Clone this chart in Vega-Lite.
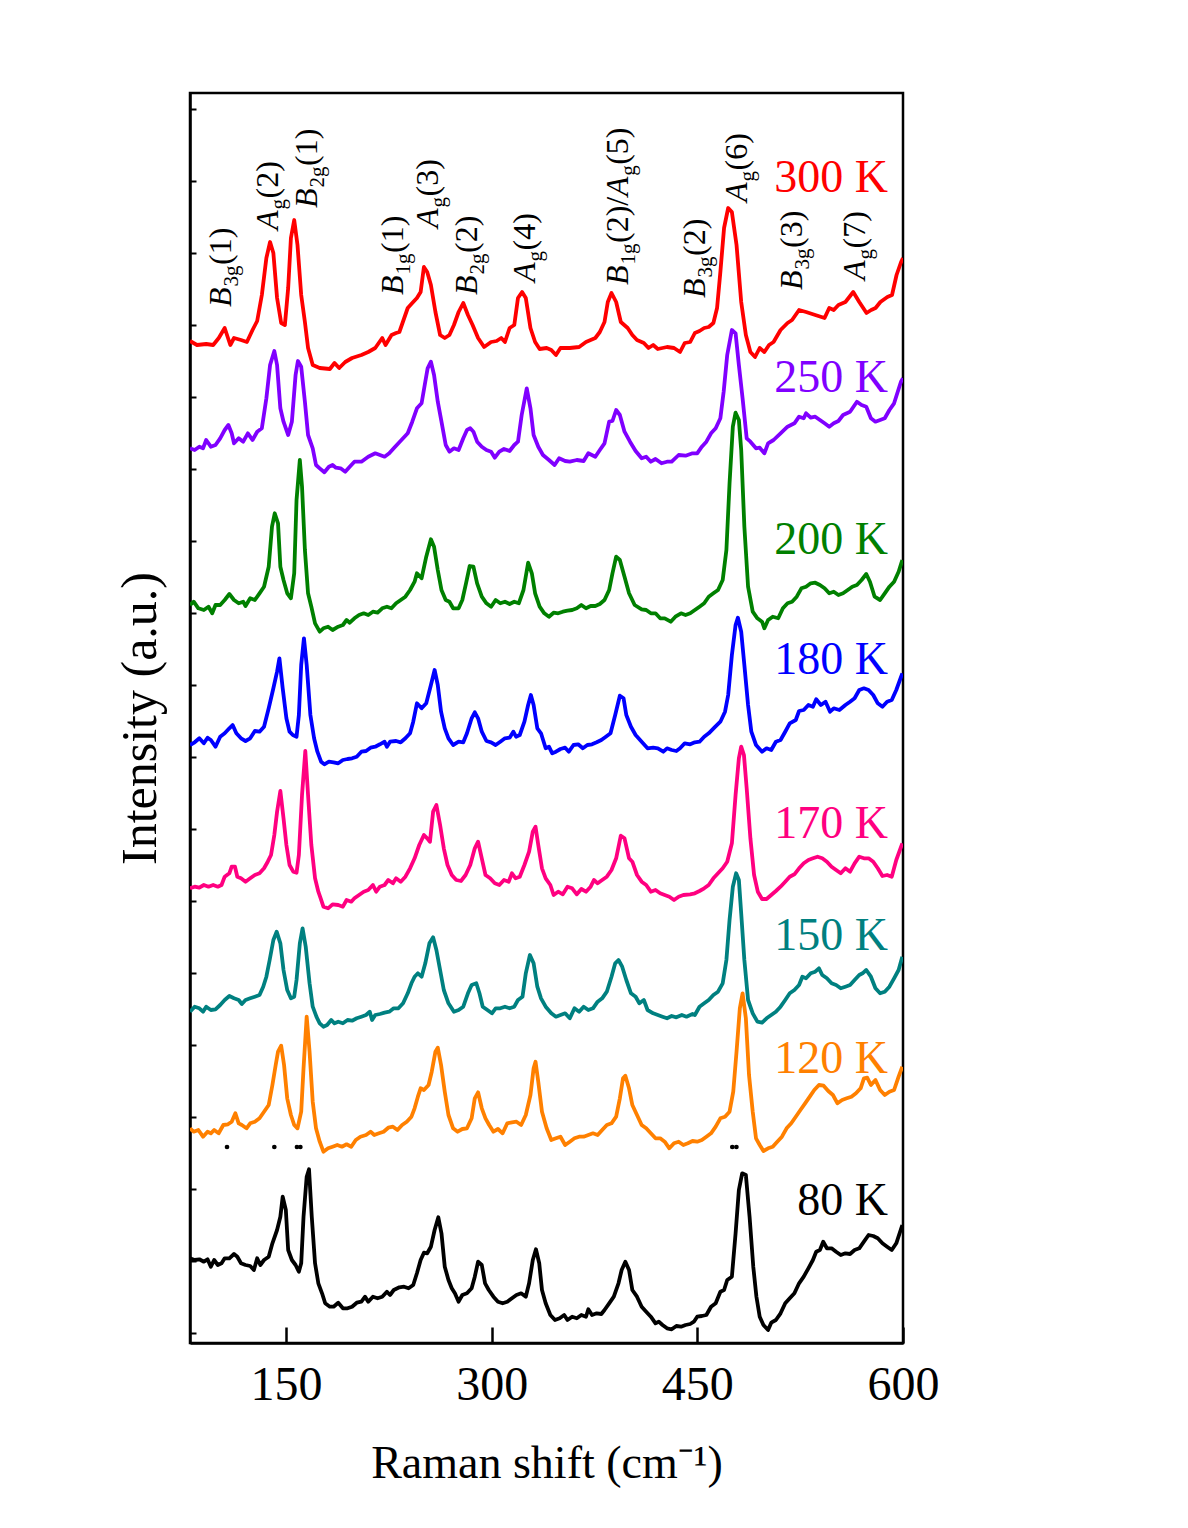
{
"$schema":"https://vega.github.io/schema/vega-lite/v6.json",
"width":713,"height":1250,
"autosize":{"type":"none"},
"padding":{"left":190,"top":93,"right":285,"bottom":185},
"background":"white",
"config":{"view":{"stroke":"black","strokeWidth":2.5},"font":"Liberation Serif"},
"datasets":{
"s":[
{"T":"300 K","x":80,"y":1002},{"T":"300 K","x":85.1,"y":998},{"T":"300 K","x":91.8,"y":999},{"T":"300 K","x":96.9,"y":998},{"T":"300 K","x":101,"y":1005},{"T":"300 K","x":105.3,"y":1015},{"T":"300 K","x":109.4,"y":998},{"T":"300 K","x":112.1,"y":1005},{"T":"300 K","x":117.2,"y":1003},{"T":"300 K","x":121.5,"y":1001},{"T":"300 K","x":125.6,"y":1013},{"T":"300 K","x":129,"y":1022},{"T":"300 K","x":132.4,"y":1048},{"T":"300 K","x":135.7,"y":1085},{"T":"300 K","x":138.4,"y":1101},{"T":"300 K","x":140.8,"y":1090},{"T":"300 K","x":143.5,"y":1045},{"T":"300 K","x":146.5,"y":1020},{"T":"300 K","x":149.2,"y":1018},{"T":"300 K","x":151.6,"y":1055},{"T":"300 K","x":153.6,"y":1105},{"T":"300 K","x":156,"y":1123},{"T":"300 K","x":158.4,"y":1098},{"T":"300 K","x":161.1,"y":1048},{"T":"300 K","x":163.8,"y":1021},{"T":"300 K","x":166.1,"y":995},{"T":"300 K","x":169.5,"y":978},{"T":"300 K","x":174.6,"y":975},{"T":"300 K","x":182,"y":974},{"T":"300 K","x":185.4,"y":980},{"T":"300 K","x":188.8,"y":975},{"T":"300 K","x":193.2,"y":981},{"T":"300 K","x":198.2,"y":985},{"T":"300 K","x":205,"y":988},{"T":"300 K","x":210,"y":991},{"T":"300 K","x":215.1,"y":995},{"T":"300 K","x":220.2,"y":1005},{"T":"300 K","x":222.6,"y":998},{"T":"300 K","x":227,"y":1008},{"T":"300 K","x":230.3,"y":1010},{"T":"300 K","x":232.7,"y":1011},{"T":"300 K","x":238.8,"y":1035},{"T":"300 K","x":242.1,"y":1040},{"T":"300 K","x":245.5,"y":1045},{"T":"300 K","x":248.2,"y":1051},{"T":"300 K","x":250.6,"y":1076},{"T":"300 K","x":253,"y":1071},{"T":"300 K","x":255.7,"y":1058},{"T":"300 K","x":259,"y":1031},{"T":"300 K","x":262.4,"y":1008},{"T":"300 K","x":265.8,"y":1005},{"T":"300 K","x":269.2,"y":1008},{"T":"300 K","x":272.5,"y":1018},{"T":"300 K","x":275.9,"y":1031},{"T":"300 K","x":279.3,"y":1040},{"T":"300 K","x":282.7,"y":1028},{"T":"300 K","x":286.1,"y":1018},{"T":"300 K","x":290.1,"y":1005},{"T":"300 K","x":294.5,"y":996},{"T":"300 K","x":299.6,"y":1001},{"T":"300 K","x":303.6,"y":1002},{"T":"300 K","x":307,"y":1005},{"T":"300 K","x":309.7,"y":1001},{"T":"300 K","x":313.1,"y":1015},{"T":"300 K","x":316.5,"y":1018},{"T":"300 K","x":319.2,"y":1045},{"T":"300 K","x":322.2,"y":1051},{"T":"300 K","x":324.9,"y":1045},{"T":"300 K","x":328.3,"y":1015},{"T":"300 K","x":331.7,"y":1001},{"T":"300 K","x":335,"y":994},{"T":"300 K","x":340.1,"y":995},{"T":"300 K","x":343.5,"y":993},{"T":"300 K","x":346.9,"y":988},{"T":"300 K","x":350.2,"y":995},{"T":"300 K","x":357,"y":995},{"T":"300 K","x":363.8,"y":996},{"T":"300 K","x":368.8,"y":1001},{"T":"300 K","x":372.2,"y":1003},{"T":"300 K","x":375.6,"y":1005},{"T":"300 K","x":378.9,"y":1011},{"T":"300 K","x":382.3,"y":1021},{"T":"300 K","x":384.7,"y":1041},{"T":"300 K","x":387.4,"y":1050},{"T":"300 K","x":390.8,"y":1041},{"T":"300 K","x":394.2,"y":1021},{"T":"300 K","x":399.2,"y":1015},{"T":"300 K","x":402.6,"y":1008},{"T":"300 K","x":406,"y":1003},{"T":"300 K","x":411,"y":1000},{"T":"300 K","x":414.4,"y":995},{"T":"300 K","x":417.8,"y":998},{"T":"300 K","x":421.2,"y":994},{"T":"300 K","x":427.9,"y":996},{"T":"300 K","x":433,"y":995},{"T":"300 K","x":437.4,"y":991},{"T":"300 K","x":440.8,"y":1000},{"T":"300 K","x":444.8,"y":1001},{"T":"300 K","x":448.2,"y":1010},{"T":"300 K","x":451.6,"y":1012},{"T":"300 K","x":455,"y":1015},{"T":"300 K","x":458.3,"y":1016},{"T":"300 K","x":461.7,"y":1020},{"T":"300 K","x":464.4,"y":1035},{"T":"300 K","x":466.8,"y":1071},{"T":"300 K","x":469.5,"y":1115},{"T":"300 K","x":472.5,"y":1135},{"T":"300 K","x":475.2,"y":1131},{"T":"300 K","x":478.6,"y":1098},{"T":"300 K","x":482,"y":1041},{"T":"300 K","x":485.4,"y":1008},{"T":"300 K","x":488.7,"y":991},{"T":"300 K","x":492.1,"y":986},{"T":"300 K","x":495.5,"y":995},{"T":"300 K","x":498.9,"y":991},{"T":"300 K","x":502.3,"y":998},{"T":"300 K","x":505.6,"y":1001},{"T":"300 K","x":510.7,"y":1013},{"T":"300 K","x":515.8,"y":1020},{"T":"300 K","x":519.1,"y":1023},{"T":"300 K","x":524.2,"y":1033},{"T":"300 K","x":529.3,"y":1031},{"T":"300 K","x":536,"y":1028},{"T":"300 K","x":542.8,"y":1025},{"T":"300 K","x":546.2,"y":1035},{"T":"300 K","x":549.5,"y":1033},{"T":"300 K","x":552.9,"y":1038},{"T":"300 K","x":558,"y":1041},{"T":"300 K","x":563.7,"y":1051},{"T":"300 K","x":568.1,"y":1041},{"T":"300 K","x":573.4,"y":1030},{"T":"300 K","x":576.8,"y":1033},{"T":"300 K","x":580,"y":1035},{"T":"300 K","x":583.5,"y":1041},{"T":"300 K","x":588.6,"y":1046},{"T":"300 K","x":592,"y":1048},{"T":"300 K","x":595.3,"y":1068},{"T":"300 K","x":598.6,"y":1081},{"T":"300 K","x":600,"y":1085},
{"T":"250 K","x":80,"y":894.7},{"T":"250 K","x":83.4,"y":893},{"T":"250 K","x":86.8,"y":896.3},{"T":"250 K","x":89.5,"y":894.7},{"T":"250 K","x":91.8,"y":903},{"T":"250 K","x":95.2,"y":896.3},{"T":"250 K","x":98.6,"y":898},{"T":"250 K","x":102,"y":904.7},{"T":"250 K","x":105.3,"y":913},{"T":"250 K","x":108,"y":918},{"T":"250 K","x":110.4,"y":909.7},{"T":"250 K","x":112.1,"y":899.7},{"T":"250 K","x":115.5,"y":904.7},{"T":"250 K","x":118.8,"y":901.3},{"T":"250 K","x":122.2,"y":909.7},{"T":"250 K","x":125.6,"y":903},{"T":"250 K","x":129,"y":911.3},{"T":"250 K","x":132.4,"y":914.7},{"T":"250 K","x":135.7,"y":944.7},{"T":"250 K","x":138.4,"y":978},{"T":"250 K","x":141.5,"y":992},{"T":"250 K","x":143.5,"y":978},{"T":"250 K","x":145.9,"y":934.7},{"T":"250 K","x":148.2,"y":921.3},{"T":"250 K","x":151.6,"y":908},{"T":"250 K","x":154.3,"y":921.3},{"T":"250 K","x":157,"y":968},{"T":"250 K","x":158.7,"y":982},{"T":"250 K","x":161.1,"y":976.3},{"T":"250 K","x":163.8,"y":941.3},{"T":"250 K","x":166.1,"y":908},{"T":"250 K","x":169.5,"y":894.7},{"T":"250 K","x":171.9,"y":878},{"T":"250 K","x":174.6,"y":874.7},{"T":"250 K","x":178,"y":870.7},{"T":"250 K","x":181.3,"y":876.3},{"T":"250 K","x":184,"y":878},{"T":"250 K","x":186.4,"y":875.3},{"T":"250 K","x":189.8,"y":874.7},{"T":"250 K","x":193.2,"y":871.3},{"T":"250 K","x":196.5,"y":876.3},{"T":"250 K","x":199.9,"y":881.3},{"T":"250 K","x":205,"y":881.3},{"T":"250 K","x":210,"y":886.3},{"T":"250 K","x":215.1,"y":889.7},{"T":"250 K","x":218.5,"y":888},{"T":"250 K","x":221.9,"y":886.3},{"T":"250 K","x":225.3,"y":889.7},{"T":"250 K","x":228.6,"y":894.7},{"T":"250 K","x":232,"y":899.7},{"T":"250 K","x":235.4,"y":904.7},{"T":"250 K","x":238.8,"y":909.7},{"T":"250 K","x":242.1,"y":921.3},{"T":"250 K","x":245.5,"y":934.7},{"T":"250 K","x":248.9,"y":939.7},{"T":"250 K","x":251.6,"y":961.3},{"T":"250 K","x":253.3,"y":974.7},{"T":"250 K","x":255.7,"y":981.3},{"T":"250 K","x":258,"y":968},{"T":"250 K","x":260.7,"y":941.3},{"T":"250 K","x":263.4,"y":921.3},{"T":"250 K","x":266.5,"y":898},{"T":"250 K","x":269.2,"y":891.3},{"T":"250 K","x":272.5,"y":894.7},{"T":"250 K","x":275.9,"y":893},{"T":"250 K","x":279.3,"y":904.7},{"T":"250 K","x":282,"y":913},{"T":"250 K","x":284.4,"y":914.7},{"T":"250 K","x":286.7,"y":911.3},{"T":"250 K","x":289.4,"y":901.3},{"T":"250 K","x":292.8,"y":896.3},{"T":"250 K","x":296.2,"y":893},{"T":"250 K","x":299.6,"y":891.3},{"T":"250 K","x":302.3,"y":885.3},{"T":"250 K","x":305.6,"y":891.3},{"T":"250 K","x":309,"y":894},{"T":"250 K","x":313.1,"y":892},{"T":"250 K","x":316.5,"y":898},{"T":"250 K","x":319.2,"y":901.3},{"T":"250 K","x":321.9,"y":928},{"T":"250 K","x":325.6,"y":954.7},{"T":"250 K","x":328.3,"y":934.7},{"T":"250 K","x":330.6,"y":908},{"T":"250 K","x":334,"y":896.3},{"T":"250 K","x":337.4,"y":888},{"T":"250 K","x":341.8,"y":883},{"T":"250 K","x":345.9,"y":878},{"T":"250 K","x":349.2,"y":884.7},{"T":"250 K","x":353.6,"y":882},{"T":"250 K","x":357,"y":881.3},{"T":"250 K","x":362.1,"y":883},{"T":"250 K","x":367.1,"y":882},{"T":"250 K","x":370.5,"y":889.7},{"T":"250 K","x":375.6,"y":886.3},{"T":"250 K","x":378.9,"y":893},{"T":"250 K","x":382.3,"y":899.7},{"T":"250 K","x":385.7,"y":921.3},{"T":"250 K","x":388.1,"y":922},{"T":"250 K","x":390.8,"y":933},{"T":"250 K","x":393.5,"y":928},{"T":"250 K","x":396.9,"y":911.3},{"T":"250 K","x":400.9,"y":901.3},{"T":"250 K","x":405,"y":892},{"T":"250 K","x":409.4,"y":884.7},{"T":"250 K","x":412.7,"y":886.3},{"T":"250 K","x":416.1,"y":881.3},{"T":"250 K","x":419.5,"y":884},{"T":"250 K","x":423.9,"y":879.7},{"T":"250 K","x":427.9,"y":881.3},{"T":"250 K","x":431.3,"y":881.3},{"T":"250 K","x":436.4,"y":888},{"T":"250 K","x":441.4,"y":887.3},{"T":"250 K","x":446.5,"y":889.7},{"T":"250 K","x":449.9,"y":889.7},{"T":"250 K","x":453.3,"y":896.3},{"T":"250 K","x":456.6,"y":901.3},{"T":"250 K","x":460,"y":909.7},{"T":"250 K","x":463.4,"y":914.7},{"T":"250 K","x":466.8,"y":924.7},{"T":"250 K","x":469.2,"y":951.3},{"T":"250 K","x":471.8,"y":988},{"T":"250 K","x":475.2,"y":1013},{"T":"250 K","x":477.9,"y":1009.7},{"T":"250 K","x":480.3,"y":978},{"T":"250 K","x":483,"y":944.7},{"T":"250 K","x":486,"y":904.7},{"T":"250 K","x":488.7,"y":901.3},{"T":"250 K","x":492.8,"y":894.7},{"T":"250 K","x":495.5,"y":895.3},{"T":"250 K","x":498.9,"y":889.7},{"T":"250 K","x":501.6,"y":899.7},{"T":"250 K","x":505.6,"y":903},{"T":"250 K","x":510.7,"y":909.7},{"T":"250 K","x":515.8,"y":916.3},{"T":"250 K","x":520.8,"y":919.7},{"T":"250 K","x":524.2,"y":926.3},{"T":"250 K","x":527.6,"y":924.7},{"T":"250 K","x":529.3,"y":929.7},{"T":"250 K","x":532.7,"y":925.3},{"T":"250 K","x":536,"y":926.3},{"T":"250 K","x":539.4,"y":923},{"T":"250 K","x":542.8,"y":919.7},{"T":"250 K","x":546.2,"y":916.3},{"T":"250 K","x":549.5,"y":919.7},{"T":"250 K","x":552.9,"y":922},{"T":"250 K","x":556.3,"y":928},{"T":"250 K","x":561.4,"y":931.3},{"T":"250 K","x":566.4,"y":941.3},{"T":"250 K","x":569.8,"y":938},{"T":"250 K","x":573.2,"y":936.3},{"T":"250 K","x":576.6,"y":924.7},{"T":"250 K","x":579.9,"y":921.3},{"T":"250 K","x":583.3,"y":923},{"T":"250 K","x":586.7,"y":924.7},{"T":"250 K","x":590.1,"y":933},{"T":"250 K","x":593.5,"y":939.7},{"T":"250 K","x":598.5,"y":961.3},{"T":"250 K","x":600,"y":964.7},
{"T":"200 K","x":80,"y":738},{"T":"200 K","x":82.7,"y":741.3},{"T":"200 K","x":86.1,"y":734.7},{"T":"200 K","x":90.1,"y":733},{"T":"200 K","x":93.5,"y":736.3},{"T":"200 K","x":96.2,"y":729.7},{"T":"200 K","x":98.6,"y":738},{"T":"200 K","x":102,"y":738},{"T":"200 K","x":105.3,"y":743},{"T":"200 K","x":108.7,"y":749},{"T":"200 K","x":112.1,"y":743},{"T":"200 K","x":115.5,"y":739.7},{"T":"200 K","x":118.8,"y":741.3},{"T":"200 K","x":120.5,"y":737},{"T":"200 K","x":123.9,"y":744.7},{"T":"200 K","x":127.3,"y":743},{"T":"200 K","x":130.7,"y":749.7},{"T":"200 K","x":134,"y":756.3},{"T":"200 K","x":137.4,"y":776.3},{"T":"200 K","x":139.8,"y":816.3},{"T":"200 K","x":141.8,"y":829.7},{"T":"200 K","x":144.2,"y":819.7},{"T":"200 K","x":145.9,"y":776.3},{"T":"200 K","x":148.2,"y":763},{"T":"200 K","x":150.9,"y":749.7},{"T":"200 K","x":153.6,"y":744.7},{"T":"200 K","x":156,"y":769.7},{"T":"200 K","x":157.7,"y":843},{"T":"200 K","x":160.1,"y":883},{"T":"200 K","x":161.7,"y":856.3},{"T":"200 K","x":163.8,"y":793},{"T":"200 K","x":166.1,"y":749.7},{"T":"200 K","x":168.5,"y":736.3},{"T":"200 K","x":171.2,"y":719.7},{"T":"200 K","x":174.6,"y":711.3},{"T":"200 K","x":177.3,"y":714.7},{"T":"200 K","x":180.7,"y":716.3},{"T":"200 K","x":184,"y":713},{"T":"200 K","x":188.1,"y":716.3},{"T":"200 K","x":191.5,"y":718},{"T":"200 K","x":194.2,"y":723},{"T":"200 K","x":196.5,"y":720.3},{"T":"200 K","x":199.9,"y":724.7},{"T":"200 K","x":203.3,"y":728},{"T":"200 K","x":206.7,"y":729.7},{"T":"200 K","x":210,"y":728},{"T":"200 K","x":213.4,"y":731.3},{"T":"200 K","x":216.8,"y":730.3},{"T":"200 K","x":220.2,"y":734.7},{"T":"200 K","x":223.6,"y":736.3},{"T":"200 K","x":226.9,"y":734.7},{"T":"200 K","x":230.3,"y":739.7},{"T":"200 K","x":233.7,"y":743},{"T":"200 K","x":237.1,"y":746.3},{"T":"200 K","x":240.5,"y":753},{"T":"200 K","x":243.8,"y":761.3},{"T":"200 K","x":245.5,"y":769.7},{"T":"200 K","x":248.9,"y":764.7},{"T":"200 K","x":252.3,"y":786.3},{"T":"200 K","x":255.7,"y":803.7},{"T":"200 K","x":258,"y":796.3},{"T":"200 K","x":260.7,"y":773},{"T":"200 K","x":263.4,"y":753},{"T":"200 K","x":266.5,"y":743},{"T":"200 K","x":269.2,"y":741.3},{"T":"200 K","x":271.9,"y":734.7},{"T":"200 K","x":275.9,"y":734.7},{"T":"200 K","x":278.6,"y":743},{"T":"200 K","x":281.3,"y":759.7},{"T":"200 K","x":284,"y":777},{"T":"200 K","x":286.7,"y":776.3},{"T":"200 K","x":289.4,"y":759.7},{"T":"200 K","x":292.8,"y":746.3},{"T":"200 K","x":296.2,"y":739.7},{"T":"200 K","x":299.6,"y":736.3},{"T":"200 K","x":302.9,"y":743},{"T":"200 K","x":306.3,"y":739.7},{"T":"200 K","x":309.7,"y":741.3},{"T":"200 K","x":313.1,"y":739},{"T":"200 K","x":316.5,"y":741.3},{"T":"200 K","x":319.8,"y":739.7},{"T":"200 K","x":323.2,"y":753},{"T":"200 K","x":326.6,"y":780.3},{"T":"200 K","x":329.3,"y":769.7},{"T":"200 K","x":331.7,"y":749.7},{"T":"200 K","x":335,"y":736.3},{"T":"200 K","x":338.4,"y":729.7},{"T":"200 K","x":341.8,"y":726.3},{"T":"200 K","x":345.2,"y":730.3},{"T":"200 K","x":348.5,"y":729.7},{"T":"200 K","x":351.9,"y":731.3},{"T":"200 K","x":355.3,"y":732.3},{"T":"200 K","x":358.7,"y":733},{"T":"200 K","x":362.1,"y":734.7},{"T":"200 K","x":365.4,"y":738},{"T":"200 K","x":368.8,"y":734.7},{"T":"200 K","x":372.2,"y":737},{"T":"200 K","x":375.6,"y":737},{"T":"200 K","x":378.9,"y":739},{"T":"200 K","x":382.3,"y":743},{"T":"200 K","x":385.7,"y":753},{"T":"200 K","x":388.1,"y":769.7},{"T":"200 K","x":390.8,"y":786.3},{"T":"200 K","x":393.5,"y":783},{"T":"200 K","x":396.9,"y":766.3},{"T":"200 K","x":400.2,"y":749.7},{"T":"200 K","x":404.3,"y":738},{"T":"200 K","x":409.4,"y":733.7},{"T":"200 K","x":412.7,"y":733},{"T":"200 K","x":416.1,"y":729.7},{"T":"200 K","x":419.5,"y":729.7},{"T":"200 K","x":422.9,"y":724.7},{"T":"200 K","x":426.2,"y":724.7},{"T":"200 K","x":430.6,"y":721.3},{"T":"200 K","x":434,"y":726.3},{"T":"200 K","x":438.1,"y":729.7},{"T":"200 K","x":441.4,"y":728},{"T":"200 K","x":444.8,"y":729.7},{"T":"200 K","x":448.2,"y":733},{"T":"200 K","x":451.6,"y":736.3},{"T":"200 K","x":455,"y":739.7},{"T":"200 K","x":458.3,"y":746.3},{"T":"200 K","x":461.7,"y":749.7},{"T":"200 K","x":465.1,"y":753},{"T":"200 K","x":468.5,"y":763},{"T":"200 K","x":471.2,"y":793},{"T":"200 K","x":473.5,"y":859.7},{"T":"200 K","x":475.9,"y":916.3},{"T":"200 K","x":477.9,"y":930.3},{"T":"200 K","x":480.3,"y":923},{"T":"200 K","x":482,"y":893},{"T":"200 K","x":484.3,"y":816.3},{"T":"200 K","x":487,"y":756.3},{"T":"200 K","x":490.4,"y":731.3},{"T":"200 K","x":493.8,"y":724.7},{"T":"200 K","x":497.2,"y":721.3},{"T":"200 K","x":498.9,"y":714.7},{"T":"200 K","x":501.6,"y":723},{"T":"200 K","x":505,"y":726.3},{"T":"200 K","x":509,"y":724.7},{"T":"200 K","x":512.4,"y":734.7},{"T":"200 K","x":515.8,"y":739.7},{"T":"200 K","x":519.1,"y":741.3},{"T":"200 K","x":522.5,"y":746.3},{"T":"200 K","x":525.9,"y":754.7},{"T":"200 K","x":529.3,"y":756.3},{"T":"200 K","x":532.7,"y":759.7},{"T":"200 K","x":536,"y":760.3},{"T":"200 K","x":539.4,"y":758},{"T":"200 K","x":542.8,"y":754.7},{"T":"200 K","x":546.2,"y":749.7},{"T":"200 K","x":549.5,"y":751.3},{"T":"200 K","x":552.9,"y":748},{"T":"200 K","x":556.3,"y":749.7},{"T":"200 K","x":559.7,"y":753},{"T":"200 K","x":563,"y":756.3},{"T":"200 K","x":566.4,"y":758},{"T":"200 K","x":569.8,"y":763},{"T":"200 K","x":573.2,"y":769},{"T":"200 K","x":575.9,"y":761.3},{"T":"200 K","x":579.3,"y":746.3},{"T":"200 K","x":583.3,"y":743},{"T":"200 K","x":586.7,"y":749.7},{"T":"200 K","x":590.1,"y":756.3},{"T":"200 K","x":593.5,"y":761.3},{"T":"200 K","x":596.8,"y":771.3},{"T":"200 K","x":599.5,"y":783},
{"T":"180 K","x":80,"y":598},{"T":"180 K","x":83.4,"y":600.7},{"T":"180 K","x":86.8,"y":604.7},{"T":"180 K","x":90.1,"y":599.7},{"T":"180 K","x":92.8,"y":605.3},{"T":"180 K","x":95.2,"y":603},{"T":"180 K","x":98.6,"y":596.3},{"T":"180 K","x":102,"y":606.3},{"T":"180 K","x":105.3,"y":609.7},{"T":"180 K","x":108.7,"y":614.7},{"T":"180 K","x":111.1,"y":618},{"T":"180 K","x":113.8,"y":609.7},{"T":"180 K","x":117.2,"y":604.7},{"T":"180 K","x":120.5,"y":602},{"T":"180 K","x":123.9,"y":604.7},{"T":"180 K","x":127.3,"y":612},{"T":"180 K","x":130.7,"y":611.3},{"T":"180 K","x":134,"y":616.3},{"T":"180 K","x":137.4,"y":634.7},{"T":"180 K","x":140.8,"y":654.7},{"T":"180 K","x":143.5,"y":671.3},{"T":"180 K","x":145.2,"y":684.7},{"T":"180 K","x":147.6,"y":654.7},{"T":"180 K","x":150.3,"y":624.7},{"T":"180 K","x":152.6,"y":611.3},{"T":"180 K","x":155,"y":608},{"T":"180 K","x":157.7,"y":606.3},{"T":"180 K","x":159.4,"y":628},{"T":"180 K","x":161.1,"y":678},{"T":"180 K","x":163.1,"y":704.7},{"T":"180 K","x":165.1,"y":678},{"T":"180 K","x":167.8,"y":628},{"T":"180 K","x":170.5,"y":604.7},{"T":"180 K","x":172.9,"y":591.3},{"T":"180 K","x":175.6,"y":581.3},{"T":"180 K","x":178,"y":578.7},{"T":"180 K","x":181.3,"y":581.3},{"T":"180 K","x":184.7,"y":580.7},{"T":"180 K","x":188.1,"y":579.7},{"T":"180 K","x":191.5,"y":583},{"T":"180 K","x":194.9,"y":584},{"T":"180 K","x":198.2,"y":584.7},{"T":"180 K","x":201.6,"y":586.3},{"T":"180 K","x":205,"y":591.3},{"T":"180 K","x":208.4,"y":592},{"T":"180 K","x":211.7,"y":595.3},{"T":"180 K","x":215.1,"y":596.3},{"T":"180 K","x":218.5,"y":598.7},{"T":"180 K","x":221.9,"y":601.3},{"T":"180 K","x":223.6,"y":596.3},{"T":"180 K","x":225.9,"y":601.3},{"T":"180 K","x":230.3,"y":602},{"T":"180 K","x":233.7,"y":600.7},{"T":"180 K","x":237.1,"y":604.7},{"T":"180 K","x":240.5,"y":609.7},{"T":"180 K","x":242.8,"y":621.3},{"T":"180 K","x":245.5,"y":639.7},{"T":"180 K","x":248.9,"y":634.7},{"T":"180 K","x":252.3,"y":639.7},{"T":"180 K","x":255.7,"y":658},{"T":"180 K","x":258.4,"y":673},{"T":"180 K","x":260.7,"y":658},{"T":"180 K","x":263.1,"y":631.3},{"T":"180 K","x":265.8,"y":614.7},{"T":"180 K","x":268.5,"y":604.7},{"T":"180 K","x":271.9,"y":598},{"T":"180 K","x":275.9,"y":601.3},{"T":"180 K","x":279.3,"y":600.7},{"T":"180 K","x":282,"y":609.7},{"T":"180 K","x":285.4,"y":624.7},{"T":"180 K","x":287.7,"y":630.7},{"T":"180 K","x":290.1,"y":624.7},{"T":"180 K","x":292.8,"y":611.3},{"T":"180 K","x":296.2,"y":602},{"T":"180 K","x":299.6,"y":600.7},{"T":"180 K","x":302.9,"y":598},{"T":"180 K","x":306.3,"y":601.3},{"T":"180 K","x":309.7,"y":604.7},{"T":"180 K","x":313.1,"y":605.3},{"T":"180 K","x":315.8,"y":611.3},{"T":"180 K","x":317.8,"y":606.3},{"T":"180 K","x":320.5,"y":608},{"T":"180 K","x":323.9,"y":621.3},{"T":"180 K","x":326.6,"y":638},{"T":"180 K","x":328.6,"y":648},{"T":"180 K","x":330.6,"y":638},{"T":"180 K","x":333.3,"y":614.7},{"T":"180 K","x":336,"y":609.7},{"T":"180 K","x":339.4,"y":594.7},{"T":"180 K","x":341.8,"y":596.3},{"T":"180 K","x":344.2,"y":589.7},{"T":"180 K","x":346.9,"y":591.3},{"T":"180 K","x":350.2,"y":594},{"T":"180 K","x":353.6,"y":595.3},{"T":"180 K","x":356.3,"y":591.3},{"T":"180 K","x":359.7,"y":598},{"T":"180 K","x":363.1,"y":598.7},{"T":"180 K","x":366.5,"y":594.7},{"T":"180 K","x":369.8,"y":598},{"T":"180 K","x":373.2,"y":598.7},{"T":"180 K","x":376.6,"y":600.7},{"T":"180 K","x":380,"y":603},{"T":"180 K","x":383.3,"y":606.3},{"T":"180 K","x":386.7,"y":609.7},{"T":"180 K","x":390.1,"y":628},{"T":"180 K","x":393.5,"y":647.3},{"T":"180 K","x":396.2,"y":644.7},{"T":"180 K","x":398.2,"y":628},{"T":"180 K","x":401.6,"y":616.3},{"T":"180 K","x":405,"y":608},{"T":"180 K","x":409.4,"y":601.3},{"T":"180 K","x":413.7,"y":594.7},{"T":"180 K","x":417.8,"y":595.3},{"T":"180 K","x":421.2,"y":594.7},{"T":"180 K","x":425.2,"y":591.3},{"T":"180 K","x":427.9,"y":594.7},{"T":"180 K","x":431.3,"y":593},{"T":"180 K","x":434.7,"y":592},{"T":"180 K","x":437.4,"y":594.7},{"T":"180 K","x":440.8,"y":599.7},{"T":"180 K","x":444.8,"y":598.7},{"T":"180 K","x":448.2,"y":600.7},{"T":"180 K","x":451.6,"y":601.3},{"T":"180 K","x":455,"y":606.3},{"T":"180 K","x":458.3,"y":609.7},{"T":"180 K","x":462.4,"y":615.3},{"T":"180 K","x":466.8,"y":621.3},{"T":"180 K","x":470.2,"y":631.3},{"T":"180 K","x":472.5,"y":648},{"T":"180 K","x":475.2,"y":688},{"T":"180 K","x":477.9,"y":718},{"T":"180 K","x":479.6,"y":725.3},{"T":"180 K","x":482,"y":711.3},{"T":"180 K","x":484.3,"y":678},{"T":"180 K","x":487,"y":638},{"T":"180 K","x":489.4,"y":611.3},{"T":"180 K","x":492.8,"y":598},{"T":"180 K","x":497.2,"y":591.3},{"T":"180 K","x":500.5,"y":594.7},{"T":"180 K","x":503.9,"y":593},{"T":"180 K","x":507.3,"y":601.3},{"T":"180 K","x":510.7,"y":603},{"T":"180 K","x":514.1,"y":611.3},{"T":"180 K","x":517.4,"y":619.7},{"T":"180 K","x":521.8,"y":623},{"T":"180 K","x":524.2,"y":632},{"T":"180 K","x":527.6,"y":633},{"T":"180 K","x":531,"y":638},{"T":"180 K","x":534.3,"y":636.3},{"T":"180 K","x":536.7,"y":643.7},{"T":"180 K","x":540.1,"y":638},{"T":"180 K","x":543.5,"y":641.3},{"T":"180 K","x":546.8,"y":631.3},{"T":"180 K","x":549.5,"y":634.7},{"T":"180 K","x":553.6,"y":633},{"T":"180 K","x":558,"y":638},{"T":"180 K","x":561.4,"y":641.3},{"T":"180 K","x":564.7,"y":644.7},{"T":"180 K","x":568.1,"y":653},{"T":"180 K","x":571.5,"y":654.7},{"T":"180 K","x":574.9,"y":653},{"T":"180 K","x":578.3,"y":648},{"T":"180 K","x":581.6,"y":639.7},{"T":"180 K","x":585,"y":636.3},{"T":"180 K","x":588.4,"y":641.3},{"T":"180 K","x":591.8,"y":643},{"T":"180 K","x":595.1,"y":653},{"T":"180 K","x":599.5,"y":669.7},
{"T":"170 K","x":80,"y":454.7},{"T":"170 K","x":83.4,"y":456.3},{"T":"170 K","x":86.8,"y":455.3},{"T":"170 K","x":90.1,"y":458},{"T":"170 K","x":93.5,"y":456.3},{"T":"170 K","x":96.9,"y":458},{"T":"170 K","x":100.3,"y":456.3},{"T":"170 K","x":103,"y":458},{"T":"170 K","x":105.3,"y":466.3},{"T":"170 K","x":108.7,"y":469.7},{"T":"170 K","x":110.4,"y":476.3},{"T":"170 K","x":112.8,"y":476.3},{"T":"170 K","x":114.5,"y":466.3},{"T":"170 K","x":117.2,"y":464.7},{"T":"170 K","x":120.5,"y":461.3},{"T":"170 K","x":123.9,"y":464.7},{"T":"170 K","x":127.3,"y":468},{"T":"170 K","x":130.7,"y":469.7},{"T":"170 K","x":134,"y":474.7},{"T":"170 K","x":136.7,"y":481.3},{"T":"170 K","x":139.1,"y":488},{"T":"170 K","x":141.5,"y":508},{"T":"170 K","x":143.5,"y":531.3},{"T":"170 K","x":145.9,"y":552},{"T":"170 K","x":148.2,"y":524.7},{"T":"170 K","x":150.3,"y":498},{"T":"170 K","x":152.6,"y":478},{"T":"170 K","x":155.3,"y":471.3},{"T":"170 K","x":157.7,"y":470.3},{"T":"170 K","x":159.4,"y":488},{"T":"170 K","x":161.7,"y":548},{"T":"170 K","x":164.1,"y":592},{"T":"170 K","x":166.1,"y":548},{"T":"170 K","x":168.5,"y":498},{"T":"170 K","x":171.2,"y":464.7},{"T":"170 K","x":173.6,"y":451.3},{"T":"170 K","x":175.3,"y":444.7},{"T":"170 K","x":177.3,"y":436.3},{"T":"170 K","x":180.7,"y":434.7},{"T":"170 K","x":184,"y":438.7},{"T":"170 K","x":188.1,"y":438},{"T":"170 K","x":191.5,"y":436.3},{"T":"170 K","x":194.2,"y":443},{"T":"170 K","x":197.6,"y":441.3},{"T":"170 K","x":199.9,"y":444.7},{"T":"170 K","x":203.3,"y":448},{"T":"170 K","x":206.7,"y":451.3},{"T":"170 K","x":210,"y":453},{"T":"170 K","x":213.4,"y":458},{"T":"170 K","x":215.8,"y":451.3},{"T":"170 K","x":218.5,"y":456.3},{"T":"170 K","x":221.9,"y":458},{"T":"170 K","x":224.6,"y":463},{"T":"170 K","x":228,"y":459.7},{"T":"170 K","x":230.3,"y":464.7},{"T":"170 K","x":233.7,"y":461.3},{"T":"170 K","x":237.1,"y":466.3},{"T":"170 K","x":240.5,"y":474.7},{"T":"170 K","x":243.8,"y":484.7},{"T":"170 K","x":247.2,"y":498},{"T":"170 K","x":250.6,"y":508},{"T":"170 K","x":253,"y":504.7},{"T":"170 K","x":255,"y":501.3},{"T":"170 K","x":257.3,"y":531.3},{"T":"170 K","x":259.7,"y":538},{"T":"170 K","x":262.4,"y":518},{"T":"170 K","x":265.1,"y":494.7},{"T":"170 K","x":267.8,"y":478},{"T":"170 K","x":270.9,"y":468},{"T":"170 K","x":274.2,"y":463},{"T":"170 K","x":277.6,"y":462},{"T":"170 K","x":281,"y":468},{"T":"170 K","x":284.4,"y":478},{"T":"170 K","x":287.7,"y":494.7},{"T":"170 K","x":290.1,"y":501.3},{"T":"170 K","x":292.8,"y":484.7},{"T":"170 K","x":295.5,"y":468},{"T":"170 K","x":298.9,"y":464.7},{"T":"170 K","x":302.3,"y":459.7},{"T":"170 K","x":305.6,"y":458},{"T":"170 K","x":309,"y":463},{"T":"170 K","x":312.4,"y":461.3},{"T":"170 K","x":314.8,"y":469.7},{"T":"170 K","x":317.5,"y":464.7},{"T":"170 K","x":320.5,"y":466.3},{"T":"170 K","x":323.9,"y":478},{"T":"170 K","x":327.3,"y":491.3},{"T":"170 K","x":330,"y":511.3},{"T":"170 K","x":332,"y":516.3},{"T":"170 K","x":334,"y":498},{"T":"170 K","x":336.7,"y":474.7},{"T":"170 K","x":339.4,"y":464.7},{"T":"170 K","x":342.8,"y":458},{"T":"170 K","x":345.2,"y":448},{"T":"170 K","x":348.5,"y":451.3},{"T":"170 K","x":351.9,"y":448.7},{"T":"170 K","x":355.3,"y":456.3},{"T":"170 K","x":358.7,"y":454.7},{"T":"170 K","x":362.1,"y":448.7},{"T":"170 K","x":365.4,"y":454},{"T":"170 K","x":368.8,"y":451.3},{"T":"170 K","x":372.2,"y":456.3},{"T":"170 K","x":374.6,"y":463},{"T":"170 K","x":377.3,"y":459.7},{"T":"170 K","x":380.6,"y":463},{"T":"170 K","x":384,"y":466.3},{"T":"170 K","x":387.4,"y":473},{"T":"170 K","x":390.8,"y":484.7},{"T":"170 K","x":394.2,"y":507.3},{"T":"170 K","x":396.9,"y":504.7},{"T":"170 K","x":400.2,"y":484.7},{"T":"170 K","x":402.6,"y":481.3},{"T":"170 K","x":406,"y":468},{"T":"170 K","x":409.4,"y":461.3},{"T":"170 K","x":412.7,"y":458},{"T":"170 K","x":416.1,"y":451.3},{"T":"170 K","x":419.5,"y":453},{"T":"170 K","x":422.9,"y":449.7},{"T":"170 K","x":426.2,"y":448},{"T":"170 K","x":429.6,"y":446.3},{"T":"170 K","x":433,"y":443},{"T":"170 K","x":436.4,"y":446.3},{"T":"170 K","x":439.8,"y":448},{"T":"170 K","x":444.8,"y":448.7},{"T":"170 K","x":448.2,"y":449.7},{"T":"170 K","x":451.6,"y":452},{"T":"170 K","x":455,"y":454.7},{"T":"170 K","x":458.3,"y":458},{"T":"170 K","x":461.7,"y":464.7},{"T":"170 K","x":465.1,"y":469.7},{"T":"170 K","x":468.5,"y":474.7},{"T":"170 K","x":471.8,"y":481.3},{"T":"170 K","x":475.2,"y":499.7},{"T":"170 K","x":477.9,"y":548},{"T":"170 K","x":480.3,"y":584.7},{"T":"170 K","x":482,"y":596.3},{"T":"170 K","x":484,"y":588},{"T":"170 K","x":486,"y":554.7},{"T":"170 K","x":488.7,"y":504.7},{"T":"170 K","x":491.4,"y":468},{"T":"170 K","x":494.1,"y":451.3},{"T":"170 K","x":497.2,"y":444},{"T":"170 K","x":500.5,"y":444},{"T":"170 K","x":503.9,"y":448},{"T":"170 K","x":507.3,"y":452},{"T":"170 K","x":510.7,"y":456.3},{"T":"170 K","x":514.1,"y":461.3},{"T":"170 K","x":517.4,"y":466.3},{"T":"170 K","x":520.8,"y":468.7},{"T":"170 K","x":524.2,"y":474.7},{"T":"170 K","x":527.6,"y":479.7},{"T":"170 K","x":531,"y":483},{"T":"170 K","x":534.3,"y":484.7},{"T":"170 K","x":537.7,"y":486.3},{"T":"170 K","x":541.1,"y":484.7},{"T":"170 K","x":544.5,"y":481.3},{"T":"170 K","x":547.9,"y":476.3},{"T":"170 K","x":551.2,"y":473},{"T":"170 K","x":554.6,"y":469.7},{"T":"170 K","x":558,"y":474.7},{"T":"170 K","x":561.4,"y":471.3},{"T":"170 K","x":564.7,"y":479.7},{"T":"170 K","x":568.1,"y":486.3},{"T":"170 K","x":571.5,"y":484.7},{"T":"170 K","x":574.9,"y":484.7},{"T":"170 K","x":578.3,"y":481.3},{"T":"170 K","x":581.6,"y":474.7},{"T":"170 K","x":585,"y":467},{"T":"170 K","x":588.4,"y":468},{"T":"170 K","x":591.8,"y":466.3},{"T":"170 K","x":595.1,"y":483},{"T":"170 K","x":599.5,"y":499.7},
{"T":"150 K","x":80,"y":331.3},{"T":"150 K","x":83.4,"y":336.3},{"T":"150 K","x":86.8,"y":334.7},{"T":"150 K","x":89.5,"y":331.3},{"T":"150 K","x":91.8,"y":336.3},{"T":"150 K","x":95.2,"y":333},{"T":"150 K","x":98.6,"y":333.7},{"T":"150 K","x":102,"y":338},{"T":"150 K","x":105.3,"y":343},{"T":"150 K","x":108.7,"y":347},{"T":"150 K","x":112.1,"y":344.7},{"T":"150 K","x":115.5,"y":343},{"T":"150 K","x":117.8,"y":339},{"T":"150 K","x":120.5,"y":343},{"T":"150 K","x":123.9,"y":344.7},{"T":"150 K","x":127.3,"y":346.3},{"T":"150 K","x":130.7,"y":348},{"T":"150 K","x":133.4,"y":356.3},{"T":"150 K","x":135.7,"y":366.3},{"T":"150 K","x":138.1,"y":383},{"T":"150 K","x":140.8,"y":403},{"T":"150 K","x":143.2,"y":411.3},{"T":"150 K","x":145.9,"y":399.7},{"T":"150 K","x":148.2,"y":373},{"T":"150 K","x":150.9,"y":353},{"T":"150 K","x":153.6,"y":344.7},{"T":"150 K","x":156,"y":346.3},{"T":"150 K","x":157.7,"y":363},{"T":"150 K","x":160.1,"y":399.7},{"T":"150 K","x":162.1,"y":414.7},{"T":"150 K","x":164.4,"y":396.3},{"T":"150 K","x":167.2,"y":359.7},{"T":"150 K","x":169.5,"y":336.3},{"T":"150 K","x":172.2,"y":326.3},{"T":"150 K","x":174.6,"y":319.7},{"T":"150 K","x":177.3,"y":316.3},{"T":"150 K","x":180,"y":318},{"T":"150 K","x":183,"y":323},{"T":"150 K","x":185.4,"y":319.7},{"T":"150 K","x":188.1,"y":321.3},{"T":"150 K","x":191.5,"y":319.7},{"T":"150 K","x":194.9,"y":323},{"T":"150 K","x":198.2,"y":322.3},{"T":"150 K","x":201.6,"y":324.7},{"T":"150 K","x":205,"y":326.3},{"T":"150 K","x":208.4,"y":328},{"T":"150 K","x":211.1,"y":331.3},{"T":"150 K","x":212.8,"y":323},{"T":"150 K","x":215.1,"y":328},{"T":"150 K","x":218.5,"y":329},{"T":"150 K","x":221.9,"y":330.3},{"T":"150 K","x":225.3,"y":331.3},{"T":"150 K","x":228.6,"y":334.7},{"T":"150 K","x":232,"y":334.7},{"T":"150 K","x":235.4,"y":339.7},{"T":"150 K","x":238.8,"y":349.7},{"T":"150 K","x":241.5,"y":359.7},{"T":"150 K","x":243.8,"y":366.3},{"T":"150 K","x":246.2,"y":369.7},{"T":"150 K","x":248.9,"y":366.3},{"T":"150 K","x":251.6,"y":379.7},{"T":"150 K","x":254.6,"y":399.7},{"T":"150 K","x":257.3,"y":405.7},{"T":"150 K","x":259.7,"y":393},{"T":"150 K","x":262.4,"y":373},{"T":"150 K","x":265.1,"y":353},{"T":"150 K","x":268.5,"y":339.7},{"T":"150 K","x":272.5,"y":331.3},{"T":"150 K","x":275.9,"y":333},{"T":"150 K","x":279.3,"y":336.3},{"T":"150 K","x":282.7,"y":349.7},{"T":"150 K","x":285.4,"y":358},{"T":"150 K","x":288.8,"y":359.7},{"T":"150 K","x":291.1,"y":349.7},{"T":"150 K","x":293.5,"y":336.3},{"T":"150 K","x":296.9,"y":333},{"T":"150 K","x":300.2,"y":329.7},{"T":"150 K","x":302.9,"y":334.7},{"T":"150 K","x":306.3,"y":334.7},{"T":"150 K","x":309.7,"y":336.3},{"T":"150 K","x":313.1,"y":334.7},{"T":"150 K","x":316.5,"y":336.3},{"T":"150 K","x":319.2,"y":343},{"T":"150 K","x":322.5,"y":346.3},{"T":"150 K","x":324.9,"y":369.7},{"T":"150 K","x":327.9,"y":388},{"T":"150 K","x":330.6,"y":379.7},{"T":"150 K","x":333.3,"y":356.3},{"T":"150 K","x":336,"y":344.7},{"T":"150 K","x":339.4,"y":336.3},{"T":"150 K","x":343.5,"y":329.7},{"T":"150 K","x":346.9,"y":326.3},{"T":"150 K","x":350.2,"y":328},{"T":"150 K","x":353.6,"y":329.7},{"T":"150 K","x":357,"y":324.7},{"T":"150 K","x":360.4,"y":334.7},{"T":"150 K","x":363.8,"y":331.3},{"T":"150 K","x":367.1,"y":336.3},{"T":"150 K","x":370.5,"y":333},{"T":"150 K","x":373.9,"y":334.7},{"T":"150 K","x":377.3,"y":341.3},{"T":"150 K","x":380.6,"y":344.7},{"T":"150 K","x":384,"y":351.3},{"T":"150 K","x":387.4,"y":366.3},{"T":"150 K","x":390.1,"y":379.7},{"T":"150 K","x":392.5,"y":383},{"T":"150 K","x":395.2,"y":376.3},{"T":"150 K","x":398.2,"y":363},{"T":"150 K","x":401.6,"y":349.7},{"T":"150 K","x":405,"y":346.3},{"T":"150 K","x":407.7,"y":339.7},{"T":"150 K","x":411,"y":343},{"T":"150 K","x":413.7,"y":333},{"T":"150 K","x":417.8,"y":329.7},{"T":"150 K","x":421.2,"y":328},{"T":"150 K","x":424.6,"y":326.3},{"T":"150 K","x":427.9,"y":324.7},{"T":"150 K","x":431.3,"y":327},{"T":"150 K","x":434.7,"y":325.7},{"T":"150 K","x":438.7,"y":328},{"T":"150 K","x":442.1,"y":326.3},{"T":"150 K","x":446.5,"y":329},{"T":"150 K","x":448.2,"y":328},{"T":"150 K","x":451.6,"y":336.3},{"T":"150 K","x":455,"y":339.7},{"T":"150 K","x":458.3,"y":343},{"T":"150 K","x":461.7,"y":348},{"T":"150 K","x":465.1,"y":351.3},{"T":"150 K","x":468.5,"y":359.7},{"T":"150 K","x":471.2,"y":383},{"T":"150 K","x":473.5,"y":423},{"T":"150 K","x":475.9,"y":456.3},{"T":"150 K","x":478.3,"y":469.7},{"T":"150 K","x":480.3,"y":463},{"T":"150 K","x":482,"y":429.7},{"T":"150 K","x":484.3,"y":383},{"T":"150 K","x":487,"y":343},{"T":"150 K","x":490.4,"y":329.7},{"T":"150 K","x":493.8,"y":321.3},{"T":"150 K","x":497.2,"y":320.3},{"T":"150 K","x":500.5,"y":324.7},{"T":"150 K","x":503.9,"y":328},{"T":"150 K","x":507.3,"y":331.3},{"T":"150 K","x":510.7,"y":336.3},{"T":"150 K","x":514.1,"y":343},{"T":"150 K","x":517.4,"y":349.7},{"T":"150 K","x":520.8,"y":353},{"T":"150 K","x":524.2,"y":358},{"T":"150 K","x":526.6,"y":366.3},{"T":"150 K","x":529.3,"y":364.7},{"T":"150 K","x":532.7,"y":369.7},{"T":"150 K","x":536,"y":371.3},{"T":"150 K","x":538.7,"y":374.7},{"T":"150 K","x":541.1,"y":368},{"T":"150 K","x":544.5,"y":364.7},{"T":"150 K","x":547.9,"y":359.7},{"T":"150 K","x":551.2,"y":358},{"T":"150 K","x":554.6,"y":354.7},{"T":"150 K","x":558,"y":356.3},{"T":"150 K","x":561.4,"y":358},{"T":"150 K","x":564.7,"y":363},{"T":"150 K","x":568.1,"y":368},{"T":"150 K","x":570.5,"y":369.7},{"T":"150 K","x":573.2,"y":373},{"T":"150 K","x":576.6,"y":366.3},{"T":"150 K","x":579.9,"y":354.7},{"T":"150 K","x":583.3,"y":349.7},{"T":"150 K","x":586.7,"y":351.3},{"T":"150 K","x":590.1,"y":356.3},{"T":"150 K","x":593.5,"y":364.7},{"T":"150 K","x":596.8,"y":373},{"T":"150 K","x":599.5,"y":386.3},
{"T":"120 K","x":80,"y":214.7},{"T":"120 K","x":82.7,"y":211.3},{"T":"120 K","x":86.1,"y":213},{"T":"120 K","x":89.5,"y":206.3},{"T":"120 K","x":92.8,"y":211.3},{"T":"120 K","x":95.2,"y":209.7},{"T":"120 K","x":97.6,"y":213},{"T":"120 K","x":100.9,"y":209.7},{"T":"120 K","x":104.3,"y":218},{"T":"120 K","x":107.7,"y":218.7},{"T":"120 K","x":110.4,"y":221.3},{"T":"120 K","x":113.1,"y":229.7},{"T":"120 K","x":115.5,"y":219.7},{"T":"120 K","x":117.8,"y":218},{"T":"120 K","x":121.2,"y":214.7},{"T":"120 K","x":123.9,"y":219.7},{"T":"120 K","x":127.3,"y":221.3},{"T":"120 K","x":130.7,"y":224.7},{"T":"120 K","x":134,"y":231.3},{"T":"120 K","x":137.4,"y":238},{"T":"120 K","x":140.1,"y":258},{"T":"120 K","x":142.5,"y":278},{"T":"120 K","x":144.2,"y":291.3},{"T":"120 K","x":146.5,"y":297.3},{"T":"120 K","x":148.6,"y":278},{"T":"120 K","x":150.9,"y":244.7},{"T":"120 K","x":153.6,"y":228},{"T":"120 K","x":156,"y":218},{"T":"120 K","x":158.4,"y":214.7},{"T":"120 K","x":161.1,"y":231.3},{"T":"120 K","x":162.8,"y":274.7},{"T":"120 K","x":165.1,"y":326.3},{"T":"120 K","x":167.2,"y":291.3},{"T":"120 K","x":169.5,"y":241.3},{"T":"120 K","x":171.9,"y":214.7},{"T":"120 K","x":174.6,"y":201.3},{"T":"120 K","x":177.3,"y":191.3},{"T":"120 K","x":180.7,"y":194.7},{"T":"120 K","x":184,"y":196.3},{"T":"120 K","x":187.4,"y":198},{"T":"120 K","x":190.8,"y":196.3},{"T":"120 K","x":194.2,"y":198.7},{"T":"120 K","x":197.6,"y":196.3},{"T":"120 K","x":200.9,"y":203},{"T":"120 K","x":204.3,"y":206.3},{"T":"120 K","x":208.4,"y":208},{"T":"120 K","x":211.7,"y":211.3},{"T":"120 K","x":214.4,"y":208},{"T":"120 K","x":217.8,"y":209.7},{"T":"120 K","x":221.2,"y":211.3},{"T":"120 K","x":224.6,"y":215.3},{"T":"120 K","x":228,"y":216.3},{"T":"120 K","x":231.3,"y":213},{"T":"120 K","x":234.7,"y":218},{"T":"120 K","x":238.1,"y":221.3},{"T":"120 K","x":241.5,"y":226.3},{"T":"120 K","x":243.8,"y":234.7},{"T":"120 K","x":246.2,"y":246.3},{"T":"120 K","x":248.2,"y":254.7},{"T":"120 K","x":250.6,"y":253},{"T":"120 K","x":254,"y":258},{"T":"120 K","x":256.3,"y":271.3},{"T":"120 K","x":259,"y":291.3},{"T":"120 K","x":260.7,"y":295.3},{"T":"120 K","x":263.1,"y":278},{"T":"120 K","x":265.8,"y":251.3},{"T":"120 K","x":268.5,"y":228},{"T":"120 K","x":271.9,"y":214.7},{"T":"120 K","x":275.2,"y":211.3},{"T":"120 K","x":278.6,"y":214},{"T":"120 K","x":282,"y":214.7},{"T":"120 K","x":285.4,"y":224.7},{"T":"120 K","x":287.7,"y":244.7},{"T":"120 K","x":290.1,"y":250.7},{"T":"120 K","x":292.8,"y":234.7},{"T":"120 K","x":295.5,"y":224.7},{"T":"120 K","x":298.2,"y":218},{"T":"120 K","x":301.3,"y":211.3},{"T":"120 K","x":304.6,"y":214},{"T":"120 K","x":308,"y":209.7},{"T":"120 K","x":311.4,"y":219.7},{"T":"120 K","x":314.8,"y":220.7},{"T":"120 K","x":318.1,"y":221.3},{"T":"120 K","x":321.5,"y":218},{"T":"120 K","x":324.9,"y":228},{"T":"120 K","x":328.3,"y":248},{"T":"120 K","x":330.6,"y":274.7},{"T":"120 K","x":332,"y":281.3},{"T":"120 K","x":334,"y":261.3},{"T":"120 K","x":336.7,"y":231.3},{"T":"120 K","x":340.1,"y":214.7},{"T":"120 K","x":343.5,"y":203},{"T":"120 K","x":346.9,"y":204.7},{"T":"120 K","x":350.2,"y":206.3},{"T":"120 K","x":353.6,"y":198},{"T":"120 K","x":357,"y":201.3},{"T":"120 K","x":360.4,"y":204.7},{"T":"120 K","x":363.8,"y":206.3},{"T":"120 K","x":367.1,"y":206.3},{"T":"120 K","x":370.5,"y":208},{"T":"120 K","x":373.9,"y":209.7},{"T":"120 K","x":377.3,"y":208},{"T":"120 K","x":380.6,"y":213},{"T":"120 K","x":384,"y":218},{"T":"120 K","x":387.4,"y":219.7},{"T":"120 K","x":390.8,"y":226.3},{"T":"120 K","x":393.5,"y":244.7},{"T":"120 K","x":395.8,"y":264.7},{"T":"120 K","x":397.5,"y":267.3},{"T":"120 K","x":400.2,"y":254.7},{"T":"120 K","x":402.6,"y":238},{"T":"120 K","x":406,"y":228},{"T":"120 K","x":409.4,"y":218},{"T":"120 K","x":412.7,"y":214.7},{"T":"120 K","x":416.1,"y":209.7},{"T":"120 K","x":419.5,"y":204.7},{"T":"120 K","x":422.9,"y":204.7},{"T":"120 K","x":426.2,"y":201.3},{"T":"120 K","x":429.6,"y":194.7},{"T":"120 K","x":433,"y":199.7},{"T":"120 K","x":436.4,"y":201.3},{"T":"120 K","x":439.8,"y":198},{"T":"120 K","x":443.1,"y":199.7},{"T":"120 K","x":446.5,"y":202},{"T":"120 K","x":449.9,"y":201.3},{"T":"120 K","x":453.3,"y":203},{"T":"120 K","x":456.6,"y":206.3},{"T":"120 K","x":460,"y":209.7},{"T":"120 K","x":463.4,"y":216.3},{"T":"120 K","x":466.8,"y":224.7},{"T":"120 K","x":470.2,"y":226.3},{"T":"120 K","x":473.5,"y":231.3},{"T":"120 K","x":476.2,"y":251.3},{"T":"120 K","x":478.6,"y":291.3},{"T":"120 K","x":481,"y":334.7},{"T":"120 K","x":483,"y":349.7},{"T":"120 K","x":485.4,"y":324.7},{"T":"120 K","x":487.7,"y":268},{"T":"120 K","x":490.4,"y":231.3},{"T":"120 K","x":492.8,"y":204.7},{"T":"120 K","x":495.5,"y":198},{"T":"120 K","x":498.2,"y":192},{"T":"120 K","x":501.6,"y":194.7},{"T":"120 K","x":505,"y":196.3},{"T":"120 K","x":508.3,"y":201.3},{"T":"120 K","x":511.7,"y":206.3},{"T":"120 K","x":515.1,"y":214.7},{"T":"120 K","x":518.5,"y":219.7},{"T":"120 K","x":521.8,"y":226.3},{"T":"120 K","x":525.2,"y":233},{"T":"120 K","x":528.6,"y":239.7},{"T":"120 K","x":532,"y":246.3},{"T":"120 K","x":535.3,"y":253},{"T":"120 K","x":538.7,"y":258},{"T":"120 K","x":542.1,"y":257.3},{"T":"120 K","x":545.5,"y":252},{"T":"120 K","x":548.9,"y":248},{"T":"120 K","x":552.2,"y":239.7},{"T":"120 K","x":555.6,"y":243},{"T":"120 K","x":559,"y":244.7},{"T":"120 K","x":562.4,"y":246.3},{"T":"120 K","x":565.7,"y":249.7},{"T":"120 K","x":569.1,"y":254.7},{"T":"120 K","x":571.5,"y":264.7},{"T":"120 K","x":573.9,"y":265.3},{"T":"120 K","x":576.6,"y":258},{"T":"120 K","x":579.9,"y":263},{"T":"120 K","x":583.3,"y":253},{"T":"120 K","x":586.7,"y":248},{"T":"120 K","x":590.1,"y":251.3},{"T":"120 K","x":593.5,"y":253},{"T":"120 K","x":596.8,"y":266.3},{"T":"120 K","x":599.5,"y":276.3},
{"T":"80 K","x":80,"y":84.7},{"T":"80 K","x":83.4,"y":83},{"T":"80 K","x":86.8,"y":83.7},{"T":"80 K","x":90.1,"y":81.3},{"T":"80 K","x":92.8,"y":83.7},{"T":"80 K","x":95.2,"y":76.3},{"T":"80 K","x":97.6,"y":83},{"T":"80 K","x":100.3,"y":78},{"T":"80 K","x":103,"y":79.7},{"T":"80 K","x":105.3,"y":84.7},{"T":"80 K","x":108.7,"y":84.7},{"T":"80 K","x":112.1,"y":89},{"T":"80 K","x":114.5,"y":86.3},{"T":"80 K","x":117.2,"y":79.7},{"T":"80 K","x":120.5,"y":78},{"T":"80 K","x":123.9,"y":77},{"T":"80 K","x":126.6,"y":73},{"T":"80 K","x":129,"y":84.7},{"T":"80 K","x":131.3,"y":78},{"T":"80 K","x":134,"y":83},{"T":"80 K","x":137.4,"y":86.3},{"T":"80 K","x":140.1,"y":99.7},{"T":"80 K","x":143.5,"y":113},{"T":"80 K","x":145.9,"y":126.3},{"T":"80 K","x":147.6,"y":146.3},{"T":"80 K","x":149.9,"y":133},{"T":"80 K","x":151.6,"y":93},{"T":"80 K","x":154.3,"y":83},{"T":"80 K","x":157,"y":78},{"T":"80 K","x":159.4,"y":71.3},{"T":"80 K","x":161.1,"y":79.7},{"T":"80 K","x":162.8,"y":126.3},{"T":"80 K","x":165.1,"y":166.3},{"T":"80 K","x":166.8,"y":173.7},{"T":"80 K","x":168.8,"y":126.3},{"T":"80 K","x":171.2,"y":79.7},{"T":"80 K","x":173.6,"y":59.7},{"T":"80 K","x":176.3,"y":49.7},{"T":"80 K","x":178.6,"y":39.7},{"T":"80 K","x":182,"y":36.3},{"T":"80 K","x":184.7,"y":36.3},{"T":"80 K","x":188.1,"y":40.3},{"T":"80 K","x":191.5,"y":34.7},{"T":"80 K","x":194.9,"y":34.7},{"T":"80 K","x":198.2,"y":36.3},{"T":"80 K","x":201.6,"y":40.3},{"T":"80 K","x":205,"y":41.3},{"T":"80 K","x":207.7,"y":46.3},{"T":"80 K","x":210,"y":41.3},{"T":"80 K","x":213.4,"y":46.3},{"T":"80 K","x":216.8,"y":44.7},{"T":"80 K","x":220.2,"y":46.3},{"T":"80 K","x":223.6,"y":51.3},{"T":"80 K","x":225.9,"y":48},{"T":"80 K","x":228.6,"y":53},{"T":"80 K","x":232.7,"y":55.7},{"T":"80 K","x":236.1,"y":56.3},{"T":"80 K","x":239.4,"y":54.7},{"T":"80 K","x":242.8,"y":58},{"T":"80 K","x":245.5,"y":69.7},{"T":"80 K","x":248.2,"y":83},{"T":"80 K","x":250.6,"y":90.3},{"T":"80 K","x":253,"y":89.7},{"T":"80 K","x":255.7,"y":96.3},{"T":"80 K","x":258.4,"y":113},{"T":"80 K","x":261.1,"y":125.7},{"T":"80 K","x":263.4,"y":109.7},{"T":"80 K","x":265.8,"y":76.3},{"T":"80 K","x":268.5,"y":63},{"T":"80 K","x":270.9,"y":54.7},{"T":"80 K","x":273.2,"y":49.7},{"T":"80 K","x":275.9,"y":41.3},{"T":"80 K","x":278.6,"y":48},{"T":"80 K","x":282,"y":49.7},{"T":"80 K","x":285.4,"y":54.7},{"T":"80 K","x":287.7,"y":66.3},{"T":"80 K","x":290.1,"y":81.3},{"T":"80 K","x":292.8,"y":78},{"T":"80 K","x":295.2,"y":59.7},{"T":"80 K","x":297.9,"y":53},{"T":"80 K","x":301.3,"y":46.3},{"T":"80 K","x":304.6,"y":41.3},{"T":"80 K","x":308,"y":39.7},{"T":"80 K","x":311.4,"y":41.3},{"T":"80 K","x":314.8,"y":44.7},{"T":"80 K","x":318.1,"y":48},{"T":"80 K","x":321.5,"y":49.7},{"T":"80 K","x":324.9,"y":46.3},{"T":"80 K","x":327.3,"y":59.7},{"T":"80 K","x":330,"y":83},{"T":"80 K","x":332.3,"y":93.7},{"T":"80 K","x":334.7,"y":79.7},{"T":"80 K","x":336.7,"y":53},{"T":"80 K","x":339.4,"y":39.7},{"T":"80 K","x":342.8,"y":28},{"T":"80 K","x":346.2,"y":23},{"T":"80 K","x":349.6,"y":24.7},{"T":"80 K","x":352.9,"y":28},{"T":"80 K","x":355.3,"y":23},{"T":"80 K","x":358.7,"y":26.3},{"T":"80 K","x":362.1,"y":24.7},{"T":"80 K","x":365.4,"y":28},{"T":"80 K","x":368.8,"y":26.3},{"T":"80 K","x":370.5,"y":33.7},{"T":"80 K","x":373.2,"y":28},{"T":"80 K","x":376.6,"y":29.7},{"T":"80 K","x":380,"y":29},{"T":"80 K","x":382.3,"y":33},{"T":"80 K","x":385.7,"y":39.7},{"T":"80 K","x":389.1,"y":46.3},{"T":"80 K","x":392.5,"y":59.7},{"T":"80 K","x":394.8,"y":73},{"T":"80 K","x":397.5,"y":81.3},{"T":"80 K","x":400.2,"y":73},{"T":"80 K","x":402.6,"y":53},{"T":"80 K","x":406,"y":46.3},{"T":"80 K","x":409.4,"y":36.3},{"T":"80 K","x":412.7,"y":31.3},{"T":"80 K","x":416.1,"y":26.3},{"T":"80 K","x":419.5,"y":19.7},{"T":"80 K","x":421.9,"y":21.3},{"T":"80 K","x":424.6,"y":18},{"T":"80 K","x":427.9,"y":14.7},{"T":"80 K","x":431.3,"y":13.7},{"T":"80 K","x":434.7,"y":17},{"T":"80 K","x":438.1,"y":16.3},{"T":"80 K","x":441.4,"y":18},{"T":"80 K","x":444.8,"y":19},{"T":"80 K","x":447.5,"y":21.3},{"T":"80 K","x":449.9,"y":26.3},{"T":"80 K","x":453.3,"y":27},{"T":"80 K","x":456.6,"y":28},{"T":"80 K","x":460,"y":36.3},{"T":"80 K","x":463.4,"y":39.7},{"T":"80 K","x":466.8,"y":51.3},{"T":"80 K","x":469.5,"y":53},{"T":"80 K","x":471.8,"y":63},{"T":"80 K","x":475.2,"y":66.3},{"T":"80 K","x":477.9,"y":109.7},{"T":"80 K","x":480.3,"y":153},{"T":"80 K","x":482.7,"y":169.7},{"T":"80 K","x":485.4,"y":168},{"T":"80 K","x":488.1,"y":126.3},{"T":"80 K","x":490.8,"y":76.3},{"T":"80 K","x":493.1,"y":46.3},{"T":"80 K","x":495.5,"y":26.3},{"T":"80 K","x":498.2,"y":18},{"T":"80 K","x":501.6,"y":13},{"T":"80 K","x":503.9,"y":20.3},{"T":"80 K","x":507.3,"y":23},{"T":"80 K","x":510.7,"y":29.7},{"T":"80 K","x":514.1,"y":39.7},{"T":"80 K","x":517.4,"y":44.7},{"T":"80 K","x":520.8,"y":49.7},{"T":"80 K","x":524.2,"y":59.7},{"T":"80 K","x":527.6,"y":66.3},{"T":"80 K","x":531,"y":74.7},{"T":"80 K","x":534.3,"y":83},{"T":"80 K","x":536.7,"y":91.3},{"T":"80 K","x":539.4,"y":93},{"T":"80 K","x":541.8,"y":101.3},{"T":"80 K","x":544.5,"y":94.7},{"T":"80 K","x":547.9,"y":94.7},{"T":"80 K","x":551.2,"y":91.3},{"T":"80 K","x":554.6,"y":88},{"T":"80 K","x":558,"y":89.7},{"T":"80 K","x":561.4,"y":89},{"T":"80 K","x":564.7,"y":93},{"T":"80 K","x":568.1,"y":94.7},{"T":"80 K","x":571.5,"y":101.3},{"T":"80 K","x":574.9,"y":108},{"T":"80 K","x":578.3,"y":107},{"T":"80 K","x":581.6,"y":104.7},{"T":"80 K","x":585,"y":99.7},{"T":"80 K","x":588.4,"y":96.3},{"T":"80 K","x":591.8,"y":93},{"T":"80 K","x":595.1,"y":99.7},{"T":"80 K","x":599.5,"y":118}
],
"lab":[
{"T":"300 K","x":589,"y":1165},{"T":"250 K","x":589,"y":965},{"T":"200 K","x":589,"y":803},{"T":"180 K","x":589,"y":683},{"T":"170 K","x":589,"y":519},{"T":"150 K","x":589,"y":407},{"T":"120 K","x":589,"y":284},{"T":"80 K","x":589,"y":142}
],
"ann":[
{"t":"B","s":"it","x":109.9,"y":1036},{"t":"3g","s":"sub","x":109.9,"y":1056.5},{"t":"(1)","s":"rm","x":109.9,"y":1078},
{"t":"A","s":"it","x":144.2,"y":1113},{"t":"g","s":"sub","x":144.2,"y":1133.5},{"t":"(2)","s":"rm","x":144.2,"y":1144.5},
{"t":"B","s":"it","x":172.6,"y":1135},{"t":"2g","s":"sub","x":172.6,"y":1155.5},{"t":"(1)","s":"rm","x":172.6,"y":1177},
{"t":"B","s":"it","x":235.3,"y":1048},{"t":"1g","s":"sub","x":235.3,"y":1068.5},{"t":"(1)","s":"rm","x":235.3,"y":1090},
{"t":"A","s":"it","x":260.9,"y":1115},{"t":"g","s":"sub","x":260.9,"y":1135.5},{"t":"(3)","s":"rm","x":260.9,"y":1146.5},
{"t":"B","s":"it","x":289.3,"y":1048},{"t":"2g","s":"sub","x":289.3,"y":1068.5},{"t":"(2)","s":"rm","x":289.3,"y":1090},
{"t":"A","s":"it","x":331.6,"y":1061},{"t":"g","s":"sub","x":331.6,"y":1081.5},{"t":"(4)","s":"rm","x":331.6,"y":1092.5},
{"t":"B","s":"it","x":399.4,"y":1058},{"t":"1g","s":"sub","x":399.4,"y":1078.5},{"t":"(2)/","s":"rm","x":399.4,"y":1100},{"t":"A","s":"it","x":399.4,"y":1146.7},{"t":"g","s":"sub","x":399.4,"y":1167.2},{"t":"(5)","s":"rm","x":399.4,"y":1178.2},
{"t":"B","s":"it","x":455.6,"y":1045},{"t":"3g","s":"sub","x":455.6,"y":1065.5},{"t":"(2)","s":"rm","x":455.6,"y":1087},
{"t":"A","s":"it","x":486.2,"y":1141},{"t":"g","s":"sub","x":486.2,"y":1161.5},{"t":"(6)","s":"rm","x":486.2,"y":1172.5},
{"t":"B","s":"it","x":526.3,"y":1053},{"t":"3g","s":"sub","x":526.3,"y":1073.5},{"t":"(3)","s":"rm","x":526.3,"y":1095},
{"t":"A","s":"it","x":572.3,"y":1063},{"t":"g","s":"sub","x":572.3,"y":1083.5},{"t":"(7)","s":"rm","x":572.3,"y":1094.5}
],
"dots":[{"x":107,"y":196},{"x":141.5,"y":196},{"x":158,"y":196},{"x":160.5,"y":196},{"x":475.5,"y":196},{"x":478.5,"y":196}],
"mt":[{"x":225},{"x":375},{"x":525}]
},
"encoding":{
"x":{"field":"x","type":"quantitative","scale":{"domain":[80,600],"nice":false,"zero":false},
 "axis":{"values":[150,300,450,600],"grid":false,"tickSize":-16,"tickWidth":2.5,"tickColor":"black","domainColor":"black","domainWidth":2.5,"labelFont":"Liberation Serif","labelFontSize":48,"labelColor":"black","labelPadding":34,"labelFlush":false,"labelOverlap":false,"title":"Raman shift (cm⁻¹)","titleFont":"Liberation Serif","titleFontSize":46,"titleFontWeight":"normal","titleColor":"black","titlePadding":32}},
"y":{"field":"y","type":"quantitative","scale":{"domain":[0,1250],"nice":false,"zero":false},
 "axis":{"values":[10,82,154,226,298,370,442,514,586,658,730,802,874,946,1018,1090,1162,1234],"labels":false,"grid":false,"tickSize":-6,"tickWidth":2,"tickColor":"black","domainColor":"black","domainWidth":2.5,"title":"Intensity (a.u.)","titleFont":"Liberation Serif","titleFontSize":50,"titleFontWeight":"normal","titleColor":"black","titlePadding":24}}
},
"layer":[
{"data":{"name":"s"},"mark":{"type":"line","strokeWidth":3.8,"strokeJoin":"round","clip":true},
 "encoding":{"color":{"field":"T","type":"nominal","legend":null,"scale":{"domain":["300 K","250 K","200 K","180 K","170 K","150 K","120 K","80 K"],"range":["#FF0000","#8000FF","#008000","#0000FF","#FF0080","#008080","#FF8000","#000000"]}}}},
{"data":{"name":"lab"},"mark":{"type":"text","align":"right","baseline":"middle","fontSize":46,"font":"Liberation Serif"},
 "encoding":{"text":{"field":"T"},"color":{"field":"T","type":"nominal","legend":null}}},
{"data":{"name":"ann"},"transform":[{"filter":"datum.s === 'it'"}],"mark":{"type":"text","angle":270,"align":"left","baseline":"alphabetic","fontSize":32,"fontStyle":"italic","font":"Liberation Serif","color":"black"},"encoding":{"text":{"field":"t"}}},
{"data":{"name":"ann"},"transform":[{"filter":"datum.s === 'sub'"}],"mark":{"type":"text","angle":270,"align":"left","baseline":"alphabetic","fontSize":21,"dy":7,"font":"Liberation Serif","color":"black"},"encoding":{"text":{"field":"t"}}},
{"data":{"name":"ann"},"transform":[{"filter":"datum.s === 'rm'"}],"mark":{"type":"text","angle":270,"align":"left","baseline":"alphabetic","fontSize":32,"font":"Liberation Serif","color":"black"},"encoding":{"text":{"field":"t"}}},
{"data":{"name":"dots"},"mark":{"type":"point","filled":true,"color":"black","size":22,"opacity":1}},
{"data":{"name":"mt"},"mark":{"type":"rule","color":"black","strokeWidth":2.5},"encoding":{"y":{"datum":0},"y2":{"datum":8}}}
]
}
